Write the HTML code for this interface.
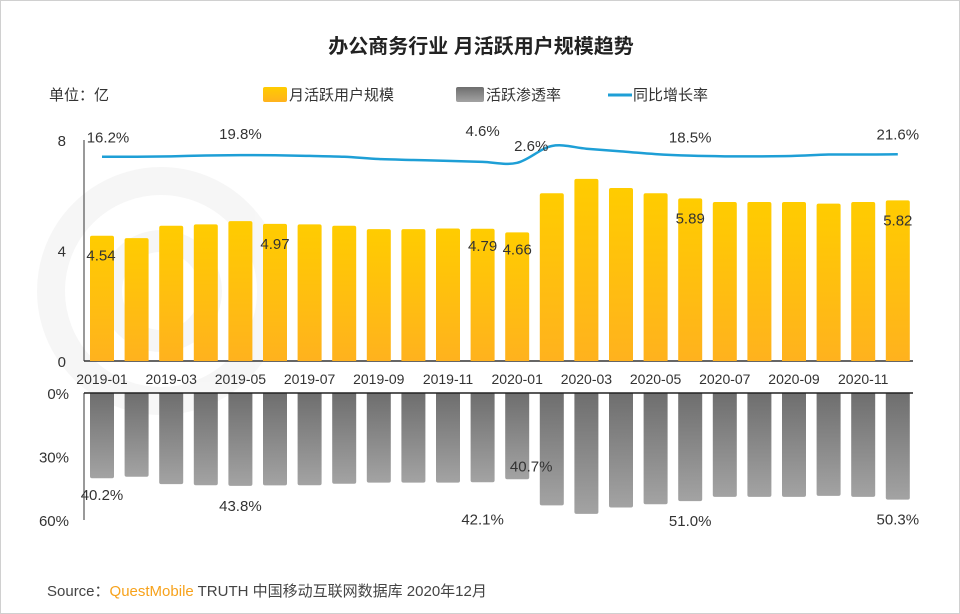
<!DOCTYPE html>
<html><head><meta charset="utf-8">
<style>
html,body{margin:0;padding:0;background:#fff;}
#wrap{position:relative;width:958px;height:612px;border:1px solid #d0d0d0;overflow:hidden;font-family:"Liberation Sans","Noto Sans CJK SC",sans-serif;}
svg text{font-family:"Liberation Sans","Noto Sans CJK SC",sans-serif;}
</style></head>
<body>
<div id="wrap">
<svg id="chart" width="958" height="612" viewBox="0 0 958 612">
<defs>
<linearGradient id="gy" x1="0" y1="0" x2="0" y2="1"><stop offset="0" stop-color="#ffcc00"/><stop offset="1" stop-color="#ffb21e"/></linearGradient>
<linearGradient id="gg" x1="0" y1="0" x2="0" y2="1"><stop offset="0" stop-color="#6e6e6e"/><stop offset="1" stop-color="#a3a3a3"/></linearGradient>
</defs>
<text x="480" y="52" text-anchor="middle" font-size="20" font-weight="bold" fill="#222">办公商务行业 月活跃用户规模趋势</text>
<text x="48" y="99" font-size="15" fill="#333">单位：亿</text>
<g>
<rect x="262" y="86" width="24" height="15" rx="2" fill="url(#gy)"/>
<text x="288" y="99" font-size="15" fill="#333">月活跃用户规模</text>
<rect x="455" y="86" width="28" height="15" rx="2" fill="url(#gg)"/>
<text x="485" y="99" font-size="15" fill="#333">活跃渗透率</text>
<line x1="607" y1="94" x2="631" y2="94" stroke="#1e9fd6" stroke-width="3"/>
<text x="632" y="99" font-size="15" fill="#333">同比增长率</text>
</g>
<g opacity="0.03"><circle cx="160" cy="290" r="110" fill="none" stroke="#000" stroke-width="28"/><circle cx="160" cy="290" r="50" fill="none" stroke="#000" stroke-width="22"/></g>
<g id="plot"></g>
<text x="46" y="595" font-size="15" fill="#444">Source：<tspan fill="#f7a21b">QuestMobile</tspan> TRUTH 中国移动互联网数据库 2020年12月</text>
</svg>
</div>
<script>
const months=["2019-01","2019-02","2019-03","2019-04","2019-05","2019-06","2019-07","2019-08","2019-09","2019-10","2019-11","2019-12","2020-01","2020-02","2020-03","2020-04","2020-05","2020-06","2020-07","2020-08","2020-09","2020-10","2020-11","2020-12"];
const mau=[4.54,4.45,4.9,4.95,5.07,4.97,4.95,4.9,4.78,4.78,4.8,4.79,4.66,6.08,6.6,6.27,6.08,5.89,5.76,5.76,5.76,5.7,5.76,5.82];
const penetration=[40.2,39.5,43.0,43.5,43.8,43.6,43.5,42.8,42.3,42.3,42.3,42.1,40.7,53.0,57.0,54.0,52.5,51.0,49.0,49.0,49.0,48.5,49.0,50.3];
const growth=[16.2,16.0,17.0,19.0,19.8,19.5,18.0,16.0,11.0,9.0,7.0,4.6,2.6,40.0,34.0,28.0,22.0,18.5,17.0,17.0,18.0,21.0,21.0,21.6];
const yTicks=[0,4,8];
const pTicks=[0,30,60];
const mauLabels=[0,5,11,12,17,23];
const penLabels=[0,4,11,12,17,23];
const growthLabels=[0,4,11,12,17,23];

const NS="http://www.w3.org/2000/svg";
const g=document.getElementById('plot');
function mk(t,a){const e=document.createElementNS(NS,t);for(const k in a)e.setAttribute(k,a[k]);g.appendChild(e);return e;}
const x0=101,step=34.6,bw=24;
const xs=i=>x0+i*step;
const yM=v=>360-v*27.6;
const yP=v=>392+v*2.12;
const yG=v=>163-v*0.45;

let e=mk('line',{x1:83,y1:139,x2:83,y2:360,stroke:'#333','stroke-width':1});

e=mk('line',{x1:83,y1:360,x2:912,y2:360,stroke:'#333','stroke-width':1.5});

e=mk('line',{x1:83,y1:392,x2:83,y2:519,stroke:'#333','stroke-width':1});

yTicks.forEach(v=>{const t=mk('text',{x:65,y:yM(v)+6,'text-anchor':'end','font-size':15,fill:'#333'});t.textContent=v;
});
pTicks.forEach(v=>{const t=mk('text',{x:68,y:yP(v)+6,'text-anchor':'end','font-size':15,fill:'#333'});t.textContent=v+'%';
});

months.forEach((m,i)=>{
 const x=xs(i);
 const r=mk('path',{d:`M${x-bw/2},360 V${yM(mau[i])+2} Q${x-bw/2},${yM(mau[i])} ${x-bw/2+2},${yM(mau[i])} H${x+bw/2-2} Q${x+bw/2},${yM(mau[i])} ${x+bw/2},${yM(mau[i])+2} V360 Z`,fill:'url(#gy)'});
 
 const p=mk('path',{d:`M${x-bw/2},392 V${yP(penetration[i])-2} Q${x-bw/2},${yP(penetration[i])} ${x-bw/2+2},${yP(penetration[i])} H${x+bw/2-2} Q${x+bw/2},${yP(penetration[i])} ${x+bw/2},${yP(penetration[i])-2} V392 Z`,fill:'url(#gg)'});
 
 if(i%2===0){const t=mk('text',{x:x,y:383,'text-anchor':'middle','font-size':14,fill:'#333'});t.textContent=m;
  }
});
e=mk('line',{x1:83,y1:392,x2:912,y2:392,stroke:'#222','stroke-width':1.5});


mauLabels.forEach(i=>{const t=mk('text',{x:xs(i)+(i===0?-1:0),y:yM(mau[i])+ (i===11||i===12?-16:0)+ (i===0?25:(i===5?25:(i===17||i===23?25:38))),'text-anchor':'middle','font-size':15,fill:'#333'});
 t.textContent=mau[i].toFixed(2);});
const penOff={0:22,4:25,11:42,12:-8,17:25,23:25};
const penDx={0:0,4:0,11:0,12:14,17:0,23:0};
penLabels.forEach(i=>{const t=mk('text',{x:xs(i)+penDx[i],y:yP(penetration[i])+penOff[i],'text-anchor':'middle','font-size':15,fill:'#333'});
 t.textContent=penetration[i].toFixed(1)+'%';});

const pts=growth.map((v,i)=>[xs(i),yG(v)]);
let d='M'+pts[0][0]+','+pts[0][1];
for(let i=0;i<pts.length-1;i++){
 const p0=pts[Math.max(0,i-1)],p1=pts[i],p2=pts[i+1],p3=pts[Math.min(pts.length-1,i+2)];
 const c1=[p1[0]+(p2[0]-p0[0])/6,p1[1]+(p2[1]-p0[1])/6],c2=[p2[0]-(p3[0]-p1[0])/6,p2[1]-(p3[1]-p1[1])/6];
 d+=` C${c1[0]},${c1[1]} ${c2[0]},${c2[1]} ${p2[0]},${p2[1]}`;
}
e=mk('path',{d:d,fill:'none',stroke:'#1e9fd6','stroke-width':2.5,'stroke-linejoin':'round'});

const gOff={0:-14,4:-16,11:-26,12:-12,17:-13,23:-15};
const gDx={0:6,4:0,11:0,12:14,17:0,23:0};
growthLabels.forEach(i=>{const t=mk('text',{x:xs(i)+gDx[i],y:yG(growth[i])+gOff[i],'text-anchor':'middle','font-size':15,fill:'#333'});
 t.textContent=growth[i].toFixed(1)+'%';});
</script>
</body></html>
